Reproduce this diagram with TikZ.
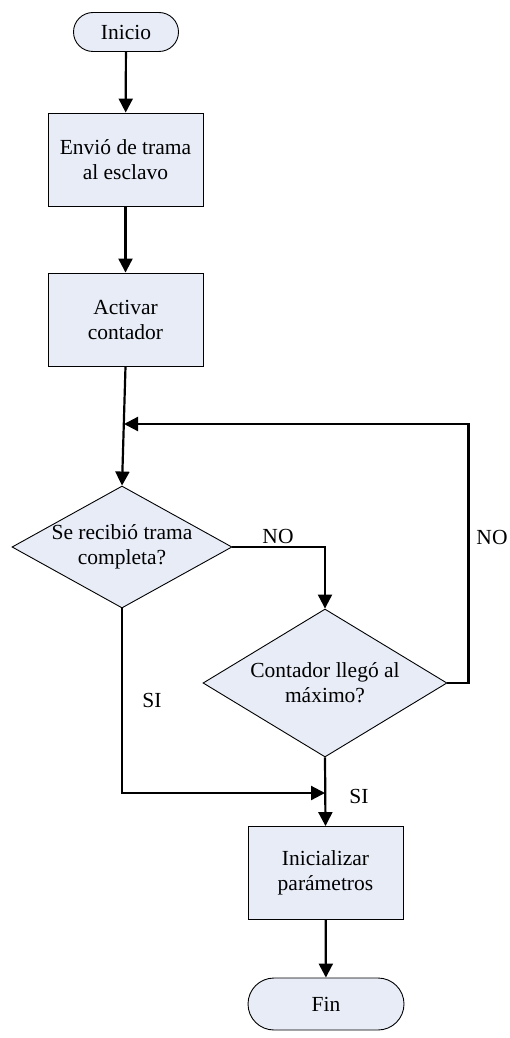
\documentclass[tikz,border=0pt]{standalone}
\usepackage{fontspec}
\setmainfont{Liberation Serif}
\usetikzlibrary{shapes.geometric,shapes.misc,arrows.meta}
\definecolor{boxfill}{RGB}{231,236,247}
\tikzset{
  base/.style={draw=black, line width=0.9pt, fill=boxfill, inner sep=0pt,
    font=\fontsize{21.5}{25}\selectfont, align=center},
  terminal/.style={base, rounded rectangle},
  process/.style={base, rectangle, minimum width=155pt, minimum height=93pt},
  decision/.style={base, diamond},
  lbl/.style={font=\fontsize{21.5}{25}\selectfont, inner sep=0pt, align=center},
  flow/.style={line width=2.2pt, -{Triangle[length=14pt,width=14pt]}},
}
\begin{document}
\begin{tikzpicture}[x=1pt,y=-1pt]
  \useasboundingbox (0,0) rectangle (510,1038);

  % steps of the flow
  \node[terminal, minimum width=105pt, minimum height=39pt] (start) at (126,32) {Inicio};
  \node[process] (send) at (125.5,159.5) {Envió de trama\\al esclavo};
  \node[process] (timer) at (125.5,319.5) {Activar\\contador};
  \node[decision, minimum width=220pt, minimum height=122pt,
        label={[lbl]center:Se recibió trama\\completa?}] (recv) at (122,547) {};
  \node[decision, minimum width=244pt, minimum height=148pt,
        label={[lbl]center:Contador llegó al\\máximo?}] (max) at (325,683) {};
  \node[process] (init) at (325.5,873) {Inicializar\\parámetros};
  \node[terminal, minimum width=156pt, minimum height=52pt] (stop) at (326,1004) {Fin};

  % junction points on the vertical lines
  \coordinate (loopin) at (124,424);
  \coordinate (join) at (325,793);

  % connectors
  \draw[flow] (start) -- (send);
  \draw[flow] (send) -- (timer);
  \draw[flow] (timer.south) -- (recv.north);
  \draw[flow] (recv.east) -| (max.north);
  \draw[flow] (max.east) -- ++(21,0) |- (loopin);
  \draw[flow] (recv.south) |- (join);
  \draw[flow] (max.south) -- (init.north);
  \draw[flow] (init) -- (stop);

  % branch labels
  \node[lbl] (noa) at (278,536) {NO};
  \node[lbl] (nob) at (492,537) {NO};
  \node[lbl] (sia) at (152,700) {SI};
  \node[lbl] (sib) at (359,796) {SI};
\end{tikzpicture}
\end{document}
